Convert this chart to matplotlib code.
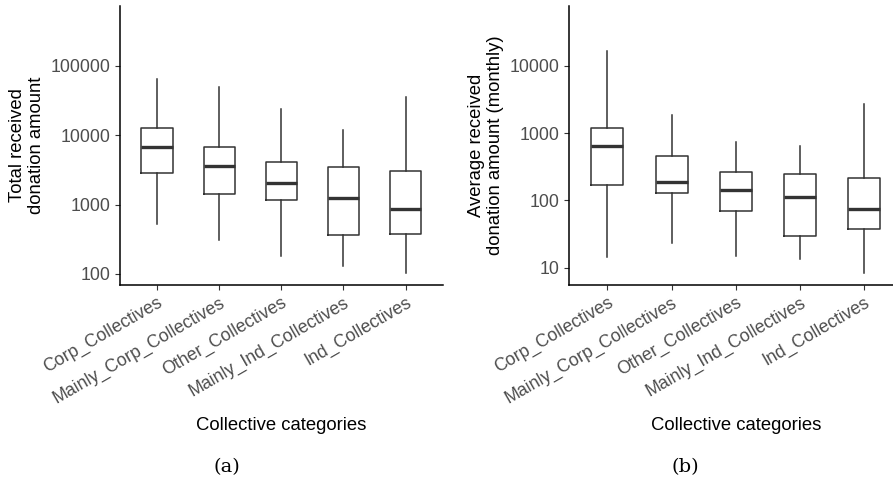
import numpy as np
import matplotlib
matplotlib.use("Agg")
import matplotlib.pyplot as plt
from matplotlib.ticker import FixedLocator, FixedFormatter, NullLocator

categories = ["Corp_Collectives", "Mainly_Corp_Collectives", "Other_Collectives",
              "Mainly_Ind_Collectives", "Ind_Collectives"]

# panel (a): total received donation amount
total_whislo = [520, 309, 182, 130, 104]
total_q1 = [2890, 1410, 1167, 365, 373]
total_med = [6850, 3650, 2030, 1236, 875]
total_q3 = [12900, 6850, 4120, 3460, 3090]
total_whishi = [64300, 49200, 23700, 11940, 35300]

# panel (b): average received donation amount (monthly)
avg_whislo = [14.5, 23, 14.9, 13.3, 8.4]
avg_q1 = [171, 130, 70, 29.5, 37.9]
avg_med = [646, 188, 143, 111, 75]
avg_q3 = [1184, 462, 267, 244, 218]
avg_whishi = [16900, 1866, 731, 652, 2690]

plt.rcParams["font.family"] = ["Liberation Sans", "DejaVu Sans"]

fig = plt.figure(figsize=(8.93, 4.84), dpi=100)
ax_a = fig.add_axes([0.134, 0.411, 0.362, 0.577])
ax_b = fig.add_axes([0.637, 0.411, 0.374, 0.577])


def draw(ax, lo, q1, med, q3, hi, ylim, ticks, ylabel):
    stats = []
    for i in range(len(categories)):
        stats.append(dict(whislo=lo[i], q1=q1[i], med=med[i], q3=q3[i],
                          whishi=hi[i], fliers=[]))
    ax.bxp(stats, positions=range(1, 6), widths=0.5, showcaps=False,
           boxprops=dict(color="#333333", linewidth=1.1),
           whiskerprops=dict(color="#333333", linewidth=1.1),
           medianprops=dict(color="#333333", linewidth=2.4))
    ax.set_yscale("log")
    ax.set_ylim(*ylim)
    ax.set_xlim(0.4, 5.6)
    ax.yaxis.set_major_locator(FixedLocator(ticks))
    ax.yaxis.set_major_formatter(FixedFormatter([str(t) for t in ticks]))
    ax.yaxis.set_minor_locator(NullLocator())
    ax.set_xticks(range(1, 6))
    ax.set_xticklabels(categories, rotation=30, ha="right", rotation_mode="anchor")
    ax.tick_params(colors="#333333", labelcolor="#4D4D4D", labelsize=12.8,
                   length=3.5, width=0.8, pad=3)
    for s in ["top", "right"]:
        ax.spines[s].set_visible(False)
    for s in ["left", "bottom"]:
        ax.spines[s].set_linewidth(1.1)
        ax.spines[s].set_color("black")
    ax.set_ylabel(ylabel, fontsize=13.3, linespacing=1.2, labelpad=4)
    ax.set_xlabel("Collective categories", fontsize=13.3, labelpad=7)


draw(ax_a, total_whislo, total_q1, total_med, total_q3, total_whishi,
     (10 ** 1.84, 10 ** 5.866), [100, 1000, 10000, 100000],
     "Total received\ndonation amount")
draw(ax_b, avg_whislo, avg_q1, avg_med, avg_q3, avg_whishi,
     (10 ** 0.741, 10 ** 4.893), [10, 100, 1000, 10000],
     "Average received\ndonation amount (monthly)")

fig.text(227 / 893, 1 - 467 / 484, "(a)", ha="center", va="center",
         family="DejaVu Serif", fontsize=14)
fig.text(685 / 893, 1 - 467 / 484, "(b)", ha="center", va="center",
         family="DejaVu Serif", fontsize=14)

fig.savefig("out.png", dpi=100)
